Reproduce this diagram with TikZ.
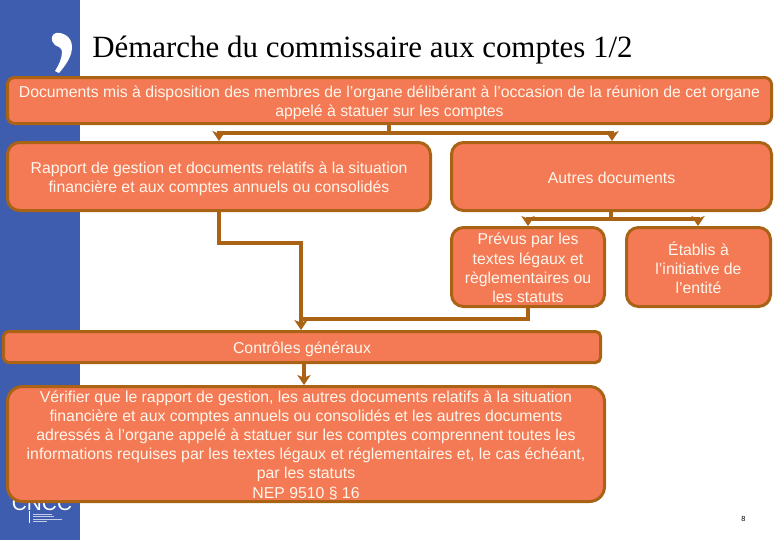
\documentclass[tikz,border=0pt]{standalone}
\usepackage{fontspec}
\setmainfont{Liberation Sans}
\newfontfamily\titlefont{Liberation Serif}
\usetikzlibrary{arrows.meta,calc}
\definecolor{boxfill}{HTML}{F47A55}
\definecolor{boxline}{HTML}{AA6214}
\definecolor{sideblue}{HTML}{3F5DAE}
\definecolor{boxtext}{HTML}{FFF6EC}
\tikzset{
  x=0.75pt,y=-0.75pt,
  flowbox/.style={draw=boxline,fill=boxfill,line width=2.25pt,text=boxtext,align=center,
    inner sep=0pt,font=\fontsize{11.85}{14.4}\selectfont},
  link/.style={draw=boxline,line width=2.5pt},
  arrowlink/.style={link,-{Stealth[length=7.5pt,width=10pt,inset=2pt]}},
}
\newcommand{\dropt}[1]{\rule{0pt}{#1pt}}
\newcommand{\pxbox}[7][7]{%
  \node[flowbox,rounded corners=#1*0.75pt,minimum width=(#5-#3)*0.75pt-2.25pt,minimum height=(#6-#4)*0.75pt-2.25pt,anchor=center]
    (#2) at ({(#3+#5)/2},{(#4+#6)/2}) {#7};}
\begin{document}
\begin{tikzpicture}
\useasboundingbox (0,0) rectangle (780,540);
\fill[white] (0,0) rectangle (780,540);
\fill[sideblue] (0,0) rectangle (80,540);
% comma ornament
\fill[white] (56,33) .. controls (62,32) and (72,36) .. (72,47)
  .. controls (72,57) and (65,66) .. (59,73) -- (55,71)
  .. controls (59,65) and (62,58) .. (62,52)
  .. controls (62,47) and (58,47) .. (55,45)
  .. controls (50,41) and (51,34) .. (56,33) -- cycle;
% logo
\node[text=white,font=\fontsize{15.6}{16}\selectfont,inner sep=0pt,anchor=center] (logo) at (42,503.5) {CNCC};
\draw[white,line width=0.4pt] (29.5,511) -- (29.5,523);
\foreach \yy/\xe in {514/52,516.5/54,519/62,521.5/47}{\draw[white!70!sideblue,line width=0.5pt] (33,\yy) -- (\xe,\yy);}
% title
\node[font=\titlefont\fontsize{23.2}{26}\selectfont,anchor=base west,inner sep=0pt] (title) at (92,57) {Démarche du commissaire aux comptes 1/2};
% page number
\node[font=\fontsize{5.5}{6}\selectfont,inner sep=0pt] (page) at (743.5,519) {8};
% boxes
\pxbox[7]{docs}{6}{76}{773}{125}{\dropt{12.4}Documents mis à disposition des membres de l’organe délibérant à l’occasion de la réunion de cet organe\\appelé à statuer sur les comptes}
\pxbox[12]{rapport}{6}{141}{432}{212}{\dropt{11.6}Rapport de gestion et documents relatifs à la situation\\financière et aux comptes annuels ou consolidés}
\pxbox[12]{autres}{450}{141}{773}{212}{\dropt{10.1}Autres documents}
\pxbox[12]{prevus}{450}{226}{606}{308}{\dropt{10.1}Prévus par les\\textes légaux et\\règlementaires ou\\les statuts}
\pxbox[12]{etablis}{625}{226}{772}{308}{\dropt{11.4}Établis à\\l’initiative de\\l’entité}
\pxbox[5]{controles}{2}{330}{602}{364}{\dropt{11.7}Contrôles généraux}
\pxbox[15]{verifier}{6}{385}{606}{503}{\dropt{10.1}Vérifier que le rapport de gestion, les autres documents relatifs à la situation\\financière et aux comptes annuels ou consolidés et les autres documents\\adressés à l’organe appelé à statuer sur les comptes comprennent toutes les\\informations requises par les textes légaux et réglementaires et, le cas échéant,\\par les statuts\\NEP 9510 § 16}
% junctions
\coordinate (j1) at (389,133);
\coordinate (j2) at (611,219);
\coordinate (j3) at (301,243);
\coordinate (j4) at (301,319);
% connectors
\draw[link] (docs.south -| j1) -- (j1);
\draw[arrowlink] (j1) -| (rapport.north -| 219,0);
\draw[arrowlink] (j1) -| (autres.north -| 612,0);
\draw[link] (autres.south -| j2) -- (j2);
\draw[arrowlink] (j2) -| (prevus.north -| 528,0);
\draw[arrowlink] (j2) -| (etablis.north -| 698,0);
\draw[arrowlink] (rapport.south -| 219,0) |- (j3) -- (controles.north -| j3);
\draw[link] (prevus.south -| 528,0) |- (j4);
\draw[arrowlink] (controles.south -| 304,0) -- (verifier.north -| 304,0);
\end{tikzpicture}
\end{document}
